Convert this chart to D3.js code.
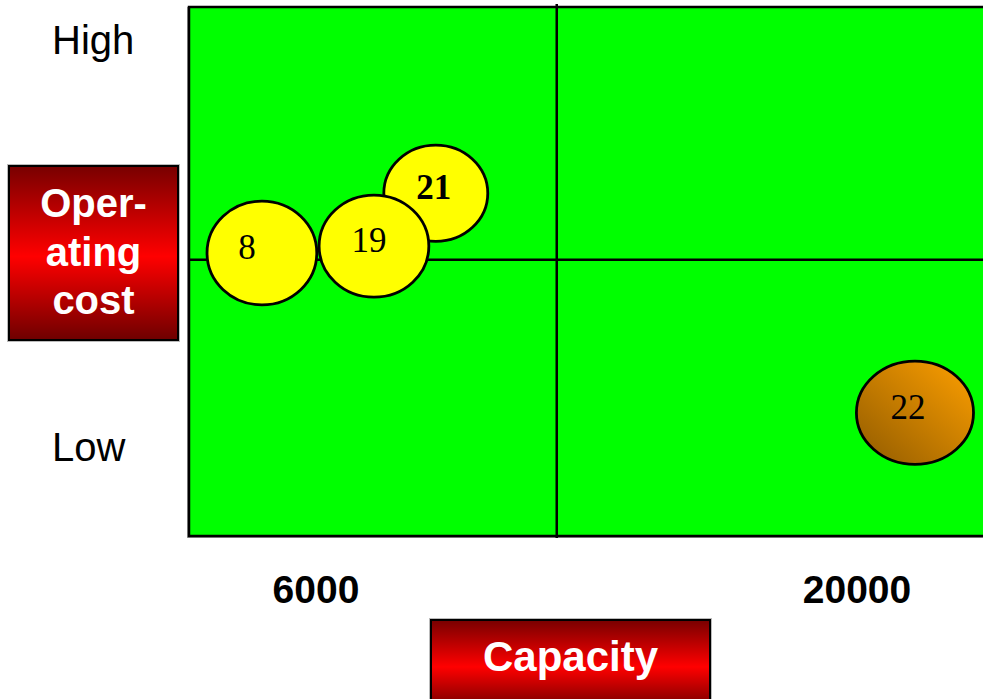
<!DOCTYPE html>
<html lang="en">

<head>
    <meta charset="UTF-8">
    <script src="https://d3js.org/d3.v7.min.js"></script>
    <title>Capacity vs Operating cost</title>

    <style>
        body {
            margin: 0;
            background: #fff;
            overflow: hidden;
        }

        .axis-word {
            font-family: "Liberation Sans", Arial, sans-serif;
            font-size: 40px;
            fill: #000;
        }

        .tick-label {
            font-family: "Liberation Sans", Arial, sans-serif;
            font-size: 39px;
            font-weight: bold;
            fill: #000;
        }

        .title-box text {
            font-family: "Liberation Sans", Arial, sans-serif;
            font-weight: bold;
            fill: #fff;
        }

        .bubble text {
            font-family: "Liberation Serif", "Times New Roman", serif;
            font-size: 35px;
            fill: #000;
        }
    </style>
</head>

<body>
    <script>
        // data
        const bubbleIds = ['8', '21', '19', '22'];
        const capacity = [4600, 9100, 7500, 21500];
        const operatingCost = [53.5, 64.8, 54.8, 23.3];
        const bubbleWidth = [1420, 1345, 1420, 1515];   // half-width, capacity units
        const bubbleHeight = [9.8, 9.1, 9.65, 9.75];    // half-height, cost units
        const boldIds = ['21'];

        const capacityTicks = [6000, 20000];
        const capacitySplit = 12230;
        const costLevels = ['High', 'Low'];
        const costLevelValues = [93.8, 16.8];
        const costSplit = 52.2;

        const width = 983;
        const height = 699;
        const plot = { left: 189, top: 7, right: 989, bottom: 536 };

        const svg = d3.select('body').append('svg')
            .attr('width', width)
            .attr('height', height);

        const defs = svg.append('defs');

        const red = defs.append('linearGradient')
            .attr('id', 'redbox')
            .attr('x1', 0).attr('y1', 0).attr('x2', 0).attr('y2', 1);
        red.append('stop').attr('offset', '0%').attr('stop-color', '#780000');
        red.append('stop').attr('offset', '52%').attr('stop-color', '#ff0000');
        red.append('stop').attr('offset', '100%').attr('stop-color', '#6e0000');

        const orange = defs.append('linearGradient')
            .attr('id', 'orange')
            .attr('x1', 0).attr('y1', 1).attr('x2', 1).attr('y2', 0);
        orange.append('stop').attr('offset', '0%').attr('stop-color', '#8f5a00');
        orange.append('stop').attr('offset', '100%').attr('stop-color', '#ffa000');

        // scales
        const x = d3.scaleLinear().domain([6000, 20000]).range([316, 857]);
        const y = d3.scaleLinear().domain([0, 100]).range([plot.bottom, plot.top]);

        // plot background
        svg.append('rect')
            .attr('x', plot.left - 2).attr('y', plot.top)
            .attr('width', plot.right - plot.left + 2)
            .attr('height', plot.bottom - plot.top + 2)
            .attr('fill', '#999');
        svg.append('rect')
            .attr('x', plot.left).attr('y', plot.top)
            .attr('width', plot.right - plot.left)
            .attr('height', plot.bottom - plot.top)
            .attr('fill', '#00ff00')
            .attr('stroke', '#000')
            .attr('stroke-width', 2.5);

        // quadrant lines
        svg.append('line')
            .attr('x1', x(capacitySplit)).attr('x2', x(capacitySplit))
            .attr('y1', plot.top - 3).attr('y2', plot.bottom + 2)
            .attr('stroke', '#000').attr('stroke-width', 2.5);
        svg.append('line')
            .attr('x1', plot.left).attr('x2', plot.right)
            .attr('y1', y(costSplit)).attr('y2', y(costSplit))
            .attr('stroke', '#000').attr('stroke-width', 2.5);

        // bubbles
        const bubbles = bubbleIds.map((id, i) => ({
            id: id,
            cap: capacity[i],
            cost: operatingCost[i],
            w: bubbleWidth[i],
            h: bubbleHeight[i]
        }));
        const labelDx = { '8': -15, '19': -5, '21': -2, '22': -7 };

        const g = svg.selectAll('g.bubble').data(bubbles).join('g')
            .attr('class', 'bubble');

        g.append('ellipse')
            .attr('cx', (d) => x(d.cap))
            .attr('cy', (d) => y(d.cost))
            .attr('rx', (d) => x(d.cap + d.w) - x(d.cap))
            .attr('ry', (d) => y(d.cost) - y(d.cost + d.h))
            .attr('fill', (d) => d.id === '22' ? 'url(#orange)' : '#ffff00')
            .attr('stroke', '#000')
            .attr('stroke-width', 2.8);

        g.append('text')
            .attr('x', (d) => x(d.cap) + labelDx[d.id])
            .attr('y', (d) => y(d.cost) + 6)
            .attr('text-anchor', 'middle')
            .style('font-weight', (d) => boldIds.includes(d.id) ? 'bold' : 'normal')
            .text((d) => d.id);

        // y level words
        svg.selectAll('text.axis-word').data(costLevels).join('text')
            .attr('class', 'axis-word')
            .attr('x', 52)
            .attr('y', (d, i) => y(costLevelValues[i]) + 14)
            .text((d) => d);

        // x tick labels
        svg.selectAll('text.tick-label').data(capacityTicks).join('text')
            .attr('class', 'tick-label')
            .attr('x', (d) => x(d))
            .attr('y', 603)
            .attr('text-anchor', 'middle')
            .text((d) => d);

        // title boxes
        function titleBox(bx, by, bw, bh, lines, size, firstBaseline, lineGap) {
            const box = svg.append('g').attr('class', 'title-box');
            box.append('rect')
                .attr('x', bx - 1.5).attr('y', by - 1.5)
                .attr('width', bw + 3).attr('height', bh + 3)
                .attr('fill', 'none').attr('stroke', '#bbb').attr('stroke-width', 1);
            box.append('rect')
                .attr('x', bx).attr('y', by)
                .attr('width', bw).attr('height', bh)
                .attr('fill', 'url(#redbox)')
                .attr('stroke', '#000').attr('stroke-width', 2);
            box.selectAll('text').data(lines).join('text')
                .attr('x', bx + bw / 2)
                .attr('y', (d, i) => firstBaseline + i * lineGap)
                .attr('text-anchor', 'middle')
                .style('font-size', size + 'px')
                .text((d) => d);
        }

        titleBox(9, 166, 169, 174, ['Oper-', 'ating', 'cost'], 40, 217, 48.5);
        titleBox(431, 620, 279, 90, ['Capacity'], 42, 671, 0);
    </script>
</body>

</html>
